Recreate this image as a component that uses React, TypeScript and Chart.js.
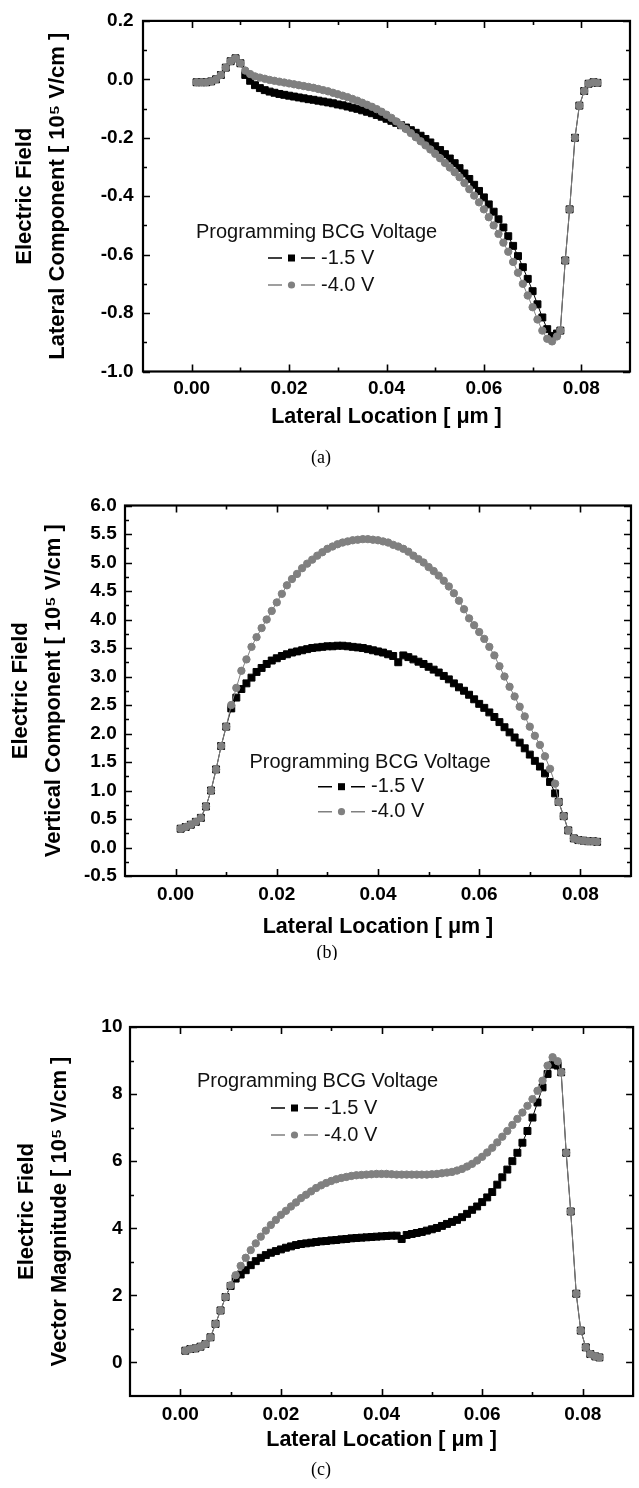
import React, { useEffect, useRef } from "react";
import { Chart, registerables } from "chart.js";

Chart.register(...registerables);

// ---------- data ----------
const LOCATION_UM = [
  0.001, 0.002, 0.003, 0.004, 0.005, 0.006, 0.007, 0.008, 0.009, 0.010,
  0.011, 0.012, 0.013, 0.014, 0.015, 0.016, 0.017, 0.018, 0.019, 0.020,
  0.021, 0.022, 0.023, 0.024, 0.025, 0.026, 0.027, 0.028, 0.029, 0.030,
  0.031, 0.032, 0.033, 0.034, 0.035, 0.036, 0.037, 0.038, 0.039, 0.040,
  0.041, 0.042, 0.043, 0.044, 0.045, 0.046, 0.047, 0.048, 0.049, 0.050,
  0.051, 0.052, 0.053, 0.054, 0.055, 0.056, 0.057, 0.058, 0.059, 0.060,
  0.061, 0.062, 0.063, 0.064, 0.065, 0.066, 0.067, 0.068, 0.069, 0.070,
  0.071, 0.072, 0.073, 0.074, 0.075,
  0.0757, 0.0767, 0.0776, 0.0787, 0.0796, 0.0806, 0.0815, 0.0825, 0.0833,
];

const LATERAL_M15 = [
  -0.010, -0.010, -0.010, -0.007, 0.000, 0.015, 0.040, 0.062, 0.072, 0.055,
  0.015, -0.005, -0.020, -0.030, -0.037, -0.042, -0.046, -0.050, -0.053, -0.056,
  -0.059, -0.062, -0.065, -0.068, -0.070, -0.073, -0.076, -0.079, -0.082, -0.086,
  -0.089, -0.093, -0.097, -0.101, -0.106, -0.111, -0.116, -0.122, -0.128, -0.135,
  -0.142, -0.149, -0.157, -0.165, -0.174, -0.183, -0.193, -0.204, -0.216, -0.229,
  -0.242, -0.256, -0.271, -0.287, -0.304, -0.322, -0.341, -0.361, -0.382, -0.404,
  -0.428, -0.453, -0.479, -0.507, -0.537, -0.570, -0.605, -0.643, -0.683, -0.725,
  -0.770, -0.815, -0.855, -0.878, -0.870,
  -0.860, -0.620, -0.445, -0.200, -0.090, -0.040, -0.015, -0.010, -0.012,
];

const LATERAL_M40 = [
  -0.010, -0.010, -0.010, -0.007, 0.000, 0.015, 0.040, 0.062, 0.072, 0.055,
  0.030, 0.018, 0.010, 0.006, 0.002, -0.002, -0.005, -0.008, -0.011, -0.014,
  -0.017, -0.020, -0.023, -0.026, -0.029, -0.033, -0.037, -0.041, -0.046, -0.051,
  -0.056, -0.061, -0.067, -0.073, -0.080, -0.087, -0.094, -0.102, -0.111, -0.121,
  -0.132, -0.144, -0.157, -0.170, -0.184, -0.198, -0.212, -0.226, -0.240, -0.255,
  -0.270, -0.286, -0.302, -0.318, -0.335, -0.355, -0.376, -0.398, -0.421, -0.445,
  -0.472, -0.500, -0.529, -0.559, -0.590, -0.625, -0.662, -0.700, -0.740, -0.780,
  -0.822, -0.860, -0.888, -0.897, -0.880,
  -0.860, -0.620, -0.445, -0.200, -0.090, -0.040, -0.015, -0.010, -0.012,
];

const VERTICAL_M15 = [
  0.33, 0.36, 0.40, 0.45, 0.52, 0.72, 1.00, 1.37, 1.78, 2.12,
  2.44, 2.63, 2.78, 2.88, 2.98, 3.08, 3.15, 3.22, 3.28, 3.32,
  3.36, 3.39, 3.42, 3.44, 3.46, 3.48, 3.50, 3.51, 3.52, 3.53,
  3.53, 3.54, 3.54, 3.53, 3.52, 3.51, 3.50, 3.48, 3.46, 3.44,
  3.42, 3.39, 3.36, 3.25, 3.37, 3.34, 3.30, 3.26, 3.22, 3.17,
  3.12, 3.07, 3.01, 2.95, 2.88, 2.81, 2.75, 2.68, 2.60, 2.52,
  2.45, 2.37, 2.29, 2.20, 2.11, 2.02, 1.93, 1.84, 1.74, 1.63,
  1.52, 1.42, 1.30, 1.15, 0.95,
  0.80, 0.55, 0.30, 0.16, 0.13, 0.12, 0.11, 0.11, 0.10,
];

const VERTICAL_M40 = [
  0.33, 0.36, 0.40, 0.45, 0.52, 0.72, 1.00, 1.37, 1.78, 2.12,
  2.50, 2.80, 3.10, 3.30, 3.52, 3.69, 3.85, 4.00, 4.15, 4.30,
  4.45, 4.60, 4.71, 4.80, 4.90, 4.98, 5.05, 5.12, 5.18, 5.24,
  5.28, 5.32, 5.35, 5.37, 5.39, 5.40, 5.41, 5.41, 5.40, 5.39,
  5.37, 5.35, 5.31, 5.28, 5.24, 5.19, 5.12, 5.06, 5.00, 4.92,
  4.85, 4.77, 4.68, 4.58, 4.46, 4.33, 4.18, 4.02, 3.90, 3.78,
  3.66, 3.52, 3.37, 3.18, 3.00, 2.82, 2.65, 2.47, 2.30, 2.12,
  1.96, 1.80, 1.60, 1.38, 1.12,
  0.80, 0.55, 0.30, 0.16, 0.13, 0.12, 0.11, 0.11, 0.10,
];

const MAGNITUDE_M15 = [
  0.35, 0.40, 0.42, 0.47, 0.55, 0.75, 1.15, 1.55, 1.95, 2.28,
  2.50, 2.62, 2.75, 2.90, 3.02, 3.12, 3.20, 3.27, 3.32, 3.37,
  3.42, 3.46, 3.50, 3.53, 3.55, 3.57, 3.59, 3.61, 3.62, 3.64,
  3.65, 3.67, 3.68, 3.70, 3.71, 3.72, 3.73, 3.74, 3.75, 3.76,
  3.77, 3.78, 3.78, 3.68, 3.80, 3.83, 3.86, 3.89, 3.93, 3.97,
  4.01, 4.07, 4.13, 4.19, 4.25, 4.33, 4.43, 4.55, 4.65, 4.78,
  4.92, 5.08, 5.30, 5.52, 5.75, 6.00, 6.25, 6.55, 6.90, 7.30,
  7.75, 8.20, 8.60, 8.88, 8.85,
  8.65, 6.25, 4.50, 2.05, 0.95, 0.45, 0.25, 0.18, 0.15,
];

const MAGNITUDE_M40 = [
  0.35, 0.40, 0.42, 0.47, 0.55, 0.75, 1.15, 1.55, 1.95, 2.30,
  2.60, 2.88, 3.12, 3.35, 3.55, 3.75, 3.93, 4.10, 4.25, 4.40,
  4.52, 4.65, 4.77, 4.90, 5.00, 5.10, 5.20, 5.28, 5.35, 5.41,
  5.46, 5.50, 5.53, 5.56, 5.58, 5.59, 5.60, 5.61, 5.62, 5.62,
  5.62, 5.61, 5.60, 5.60, 5.60, 5.60, 5.60, 5.60, 5.60, 5.61,
  5.62, 5.64, 5.66, 5.68, 5.72, 5.77, 5.84, 5.92, 6.02, 6.13,
  6.26, 6.40, 6.56, 6.73, 6.90, 7.08, 7.26, 7.45, 7.65, 7.85,
  8.10, 8.40, 8.85, 9.10, 8.98,
  8.65, 6.25, 4.50, 2.05, 0.95, 0.45, 0.25, 0.18, 0.15,
];

const X_TICKS = [0.0, 0.02, 0.04, 0.06, 0.08];
const X_MINOR = [0.01, 0.03, 0.05, 0.07];

const Y_TICKS_A = [-1.0, -0.8, -0.6, -0.4, -0.2, 0.0, 0.2];
const Y_MINOR_A = [-0.9, -0.7, -0.5, -0.3, -0.1, 0.1];
const Y_TICKS_B = [-0.5, 0.0, 0.5, 1.0, 1.5, 2.0, 2.5, 3.0, 3.5, 4.0, 4.5, 5.0, 5.5, 6.0];
const Y_MINOR_B = [-0.25, 0.25, 0.75, 1.25, 1.75, 2.25, 2.75, 3.25, 3.75, 4.25, 4.75, 5.25, 5.75];
const Y_TICKS_C = [0, 2, 4, 6, 8, 10];
const Y_MINOR_C = [1, 3, 5, 7, 9];

const SERIES_LABELS = ["-1.5 V", "-4.0 V"];
const LEGEND_TITLE = "Programming BCG Voltage";
const X_TITLE = "Lateral Location [ \u03bcm ]";
const Y_TITLE_A = ["Electric Field", "Lateral Component [ 10\u2075 V/cm ]"];
const Y_TITLE_B = ["Electric Field", "Vertical Component [ 10\u2075 V/cm ]"];
const Y_TITLE_C = ["Electric Field", "Vector Magnitude [ 10\u2075 V/cm ]"];
const CAPTIONS = ["(a)", "(b)", "(c)"];

// ---------- styling / layout ----------
const SANS = '"Liberation Sans", Arial, Helvetica, sans-serif';
const SERIF = '"Liberation Serif", "Times New Roman", serif';
const BLACK = "#000000";
const GREY = "#808080";
const PAGE_W = 639;

type Panel = {
  key: string;
  top: number;
  height: number;
  area: { left: number; top: number; right: number; bottom: number };
  yMin: number;
  yMax: number;
  yTicks: number[];
  yMinor: number[];
  decimals: number;
  yTitle: string[];
  black: number[];
  grey: number[];
  yTitlePad: number;
  yLabelPad: number;
  xLabelPad: number;
  xTitlePad: number;
  legend: { titleX: number; titleY: number; symX: number; rowY: number[] };
  caption: { text: string; x: number; y: number };
};

const PANELS: Panel[] = [
  {
    key: "a", top: 0, height: 480,
    area: { left: 143, top: 14.5, right: 630, bottom: 371.5 },
    yMin: -1.0, yMax: 0.2, yTicks: Y_TICKS_A, yMinor: Y_MINOR_A, decimals: 1,
    yTitle: Y_TITLE_A, black: LATERAL_M15, grey: LATERAL_M40,
    yTitlePad: 8, yLabelPad: 9.5, xLabelPad: 6, xTitlePad: 50,
    legend: { titleX: 196, titleY: 232, symX: 268, rowY: [258, 285] },
    caption: { text: CAPTIONS[0], x: 321, y: 458 },
  },
  {
    key: "b", top: 480, height: 480,
    area: { left: 125, top: 25.5, right: 631, bottom: 396 },
    yMin: -0.5, yMax: 6.0, yTicks: Y_TICKS_B, yMinor: Y_MINOR_B, decimals: 1,
    yTitle: Y_TITLE_B, black: VERTICAL_M15, grey: VERTICAL_M40,
    yTitlePad: 4.3, yLabelPad: 8.3, xLabelPad: 7.6, xTitlePad: 20,
    legend: { titleX: 249.5, titleY: 282.7, symX: 318, rowY: [306.7, 331.7] },
    caption: { text: CAPTIONS[1], x: 327, y: 473 },
  },
  {
    key: "c", top: 960, height: 528,
    area: { left: 130, top: 67, right: 636, bottom: 436 },
    yMin: -1, yMax: 10, yTicks: Y_TICKS_C, yMinor: Y_MINOR_C, decimals: 0,
    yTitle: Y_TITLE_C, black: MAGNITUDE_M15, grey: MAGNITUDE_M40,
    yTitlePad: 10.3, yLabelPad: 7.5, xLabelPad: 7.6, xTitlePad: 35,
    legend: { titleX: 197, titleY: 121, symX: 271, rowY: [148, 175] },
    caption: { text: CAPTIONS[2], x: 321, y: 510 },
  },
];

function toPoints(xs: number[], ys: number[]) {
  return xs.map((x, i) => ({ x, y: ys[i] }));
}

function decorPlugin(p: Panel) {
  return {
    id: "decor_" + p.key,
    afterDraw(chart: any) {
      const { ctx, chartArea } = chart;
      const { left, top, right, bottom } = chartArea;
      const xs = chart.scales.x;
      const ys = chart.scales.y;
      ctx.save();
      // inward ticks on all four sides
      ctx.strokeStyle = BLACK;
      ctx.lineWidth = 1.6;
      ctx.beginPath();
      const xt = (vals: number[], len: number) =>
        vals.forEach((v) => {
          const px = Math.round(xs.getPixelForValue(v)) + 0.5;
          ctx.moveTo(px, bottom);
          ctx.lineTo(px, bottom - len);
          ctx.moveTo(px, top);
          ctx.lineTo(px, top + len);
        });
      const yt = (vals: number[], len: number) =>
        vals.forEach((v) => {
          const py = Math.round(ys.getPixelForValue(v)) + 0.5;
          ctx.moveTo(left, py);
          ctx.lineTo(left + len, py);
          ctx.moveTo(right, py);
          ctx.lineTo(right - len, py);
        });
      xt(X_TICKS, 7);
      xt(X_MINOR, 4);
      yt(p.yTicks, 7);
      yt(p.yMinor, 4);
      ctx.stroke();
      // frame
      ctx.lineWidth = 2.2;
      ctx.strokeRect(left, top, right - left, bottom - top);

      // legend
      const lg = p.legend;
      ctx.font = "20px " + SANS;
      ctx.fillStyle = "#111111";
      ctx.textBaseline = "middle";
      ctx.textAlign = "left";
      ctx.fillText(LEGEND_TITLE, lg.titleX, lg.titleY);
      const colors = [BLACK, GREY];
      SERIES_LABELS.forEach((label, i) => {
        const y = lg.rowY[i];
        const x0 = lg.symX;
        ctx.strokeStyle = colors[i];
        ctx.lineWidth = 1.6;
        ctx.beginPath();
        ctx.moveTo(x0, y);
        ctx.lineTo(x0 + 14, y);
        ctx.moveTo(x0 + 33, y);
        ctx.lineTo(x0 + 47, y);
        ctx.stroke();
        ctx.fillStyle = colors[i];
        if (i === 0) {
          ctx.fillRect(x0 + 20, y - 3.5, 7, 7);
        } else {
          ctx.beginPath();
          ctx.arc(x0 + 23.5, y, 3.6, 0, Math.PI * 2);
          ctx.fill();
        }
        ctx.fillStyle = "#111111";
        ctx.fillText(label, x0 + 53, y);
      });

      // caption
      ctx.font = "18px " + SERIF;
      ctx.fillStyle = BLACK;
      ctx.textAlign = "center";
      ctx.fillText(p.caption.text, p.caption.x, p.caption.y);
      ctx.restore();
    },
  };
}

function PanelChart({ p }: { p: Panel }) {
  const ref = useRef<HTMLCanvasElement | null>(null);
  useEffect(() => {
    if (!ref.current) return;
    const tickFont = { family: SANS, size: 19, weight: "bold" as const };
    const chart = new Chart(ref.current, {
      type: "scatter",
      data: {
        datasets: [
          {
            label: SERIES_LABELS[1],
            data: toPoints(LOCATION_UM, p.grey),
            showLine: true,
            borderColor: GREY,
            borderWidth: 1,
            pointStyle: "circle",
            pointRadius: 3.7,
            pointBackgroundColor: GREY,
            pointBorderColor: GREY,
            pointBorderWidth: 1,
            order: 0,
          },
          {
            label: SERIES_LABELS[0],
            data: toPoints(LOCATION_UM, p.black),
            showLine: true,
            borderColor: BLACK,
            borderWidth: 1,
            pointStyle: "rect",
            pointRadius: 4.9,
            pointBackgroundColor: BLACK,
            pointBorderColor: BLACK,
            pointBorderWidth: 1,
            order: 1,
          },
        ],
      },
      options: {
        animation: false,
        responsive: false,
        devicePixelRatio: 1,
        layout: {
          padding: { left: 0, top: p.area.top, right: PAGE_W - p.area.right, bottom: 0 },
        },
        plugins: {
          legend: { display: false },
          tooltip: { enabled: false },
          title: { display: false },
        },
        scales: {
          x: {
            type: "linear",
            min: -0.01,
            max: 0.09,
            afterBuildTicks: (s: any) => {
              s.ticks = X_TICKS.map((v) => ({ value: v }));
            },
            afterFit: (s: any) => {
              s.height = p.height - p.area.bottom;
            },
            grid: { display: false, drawTicks: false },
            border: { display: false },
            ticks: {
              padding: p.xLabelPad,
              font: tickFont,
              color: BLACK,
              maxRotation: 0,
              autoSkip: false,
              callback: (v: any) => Number(v).toFixed(2),
            },
            title: {
              display: true,
              text: X_TITLE,
              color: BLACK,
              font: { family: SANS, size: 21.5, weight: "bold" },
              padding: { top: 0, bottom: p.xTitlePad },
            },
          },
          y: {
            type: "linear",
            min: p.yMin,
            max: p.yMax,
            afterBuildTicks: (s: any) => {
              s.ticks = p.yTicks.map((v) => ({ value: v }));
            },
            afterFit: (s: any) => {
              s.width = p.area.left;
            },
            grid: { display: false, drawTicks: false },
            border: { display: false },
            ticks: {
              padding: p.yLabelPad,
              font: tickFont,
              color: BLACK,
              autoSkip: false,
              callback: (v: any) => Number(v).toFixed(p.decimals),
            },
            title: {
              display: true,
              text: p.yTitle,
              color: BLACK,
              font: { family: SANS, size: 22, weight: "bold", lineHeight: 1.5 },
              padding: { top: p.yTitlePad, bottom: 0 },
            },
          },
        },
      },
      plugins: [decorPlugin(p)],
    } as any);
    return () => chart.destroy();
  }, [p]);
  return (
    <canvas
      ref={ref}
      width={PAGE_W}
      height={p.height}
      style={{ position: "absolute", left: 0, top: p.top, width: PAGE_W, height: p.height, display: "block" }}
    />
  );
}

export default function App() {
  return (
    <div style={{ position: "absolute", left: 0, top: 0, width: PAGE_W, height: 1488, background: "#ffffff" }}>
      {PANELS.map((p) => (
        <PanelChart key={p.key} p={p} />
      ))}
    </div>
  );
}
